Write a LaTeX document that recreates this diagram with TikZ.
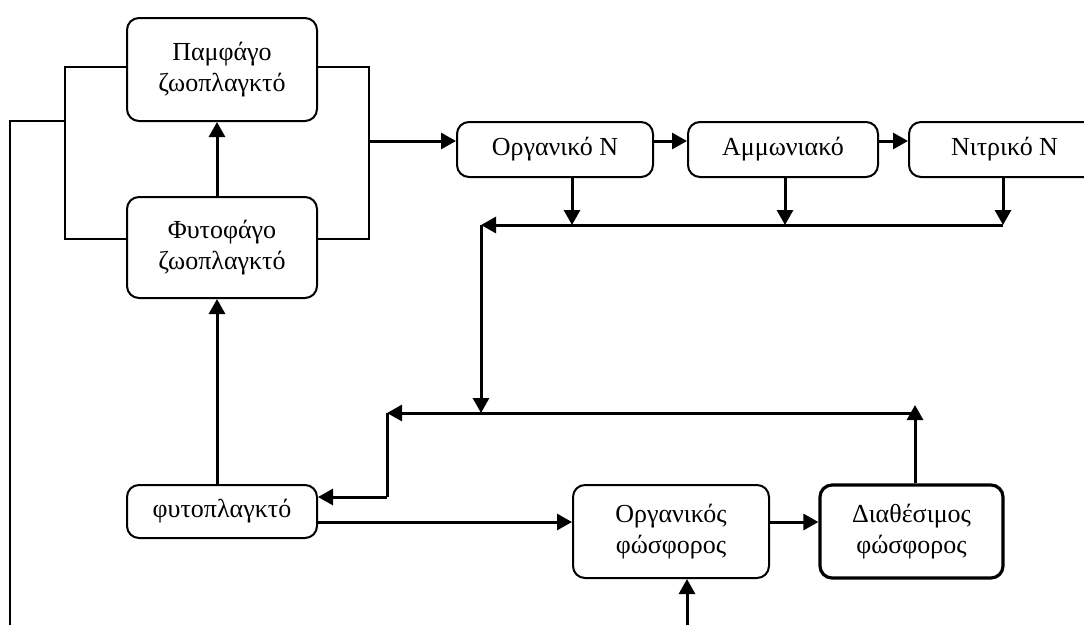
\documentclass[tikz,border=0pt]{standalone}
\usepackage{fontspec}
\setmainfont{Liberation Serif}
\usetikzlibrary{arrows.meta}
\begin{document}
\begin{tikzpicture}[x=1pt,y=-1pt,
  box/.style={draw, line width=2pt, rounded corners=12pt, align=center, inner sep=0pt,
    font=\fontsize{26}{31}\selectfont},
  thickbox/.style={box, line width=3.2pt},
  conn/.style={line width=3pt, -{Triangle[length=15pt,width=16pt]}},
  plain/.style={line width=3pt},
  thinline/.style={line width=1.6pt}]
\useasboundingbox (0,0) rectangle (1084,624);
% boxes
\node[box, minimum width=190pt, minimum height=103pt] (pam) at (222,69.5) {Παμφάγο\\ζωοπλαγκτό};
\node[box, minimum width=190pt, minimum height=101pt] (fyto) at (222,247.5) {Φυτοφάγο\\ζωοπλαγκτό};
\node[box, minimum width=196pt, minimum height=55pt] (orgN) at (555,149.5) {Οργανικό N};
\node[box, minimum width=190pt, minimum height=55pt] (amm) at (783,149.5) {Αμμωνιακό};
\node[box, minimum width=191pt, minimum height=55pt] (nit) at (1004.5,149.5) {Νιτρικό N};
\node[box, minimum width=190pt, minimum height=53pt] (phyto) at (222,511.5) {φυτοπλαγκτό};
\node[box, minimum width=196pt, minimum height=93pt] (orgP) at (671,531.5) {Οργανικός\\φώσφορος};
\node[thickbox, minimum width=183pt, minimum height=93pt] (diaP) at (911.5,531.5) {Διαθέσιμος\\φώσφορος};
% coordinates
\coordinate (bLT) at (65,67);
\coordinate (bLB) at (65,239);
\coordinate (bRT) at (369,67);
\coordinate (bRB) at (369,239);
\coordinate (bLM) at (65,121);
\coordinate (farT) at (10,121);
\coordinate (farB) at (10,626);
\coordinate (bRM) at (369,141);
\coordinate (nA) at (572,225);
\coordinate (nB) at (785,225);
\coordinate (nC) at (1003,225);
\coordinate (nL) at (481,225);
\coordinate (mJ) at (481,413);
\coordinate (mR) at (915,413);
\coordinate (mTip) at (915,405);
\coordinate (mL) at (387,413);
\coordinate (mD) at (387,497);
\coordinate (upX) at (217,0);
\coordinate (pY) at (0,522);
\coordinate (botIn) at (687,626);
% bracket
\draw[thinline] (pam.west |- bLT) -- (bLT) -- (bLB) -- (fyto.west |- bLB);
\draw[thinline] (pam.east |- bRT) -- (bRT) -- (bRB) -- (fyto.east |- bRB);
\draw[thinline] (bLM) -- (farT) -- (farB);
% nitrogen chain
\draw[conn] (bRM) -- (orgN.west |- bRM);
\draw[conn] (orgN.east |- bRM) -- (amm.west |- bRM);
\draw[conn] (amm.east |- bRM) -- (nit.west |- bRM);
\draw[conn] (orgN.south -| nA) -- (nA);
\draw[conn] (amm.south -| nB) -- (nB);
\draw[conn] (nit.south -| nC) -- (nC);
\draw[plain] (nC) -- (nB) -- (nA);
\draw[conn] (nA) -- (nL);
\draw[conn] (nL) -- (mJ);
% middle line
\draw[conn] (diaP.north -| mR) -- (mTip);
\draw[conn] (mR) -- (mL);
\draw[plain] (mL) -- (mD);
\draw[conn] (mD) -- (phyto.east |- mD);
% plankton
\draw[conn] (phyto.north -| upX) -- (fyto.south -| upX);
\draw[conn] (fyto.north -| upX) -- (pam.south -| upX);
\draw[conn] (phyto.east |- pY) -- (orgP.west |- pY);
\draw[conn] (orgP.east |- pY) -- (diaP.west |- pY);
\draw[conn] (botIn) -- (orgP.south -| botIn);
\end{tikzpicture}
\end{document}
